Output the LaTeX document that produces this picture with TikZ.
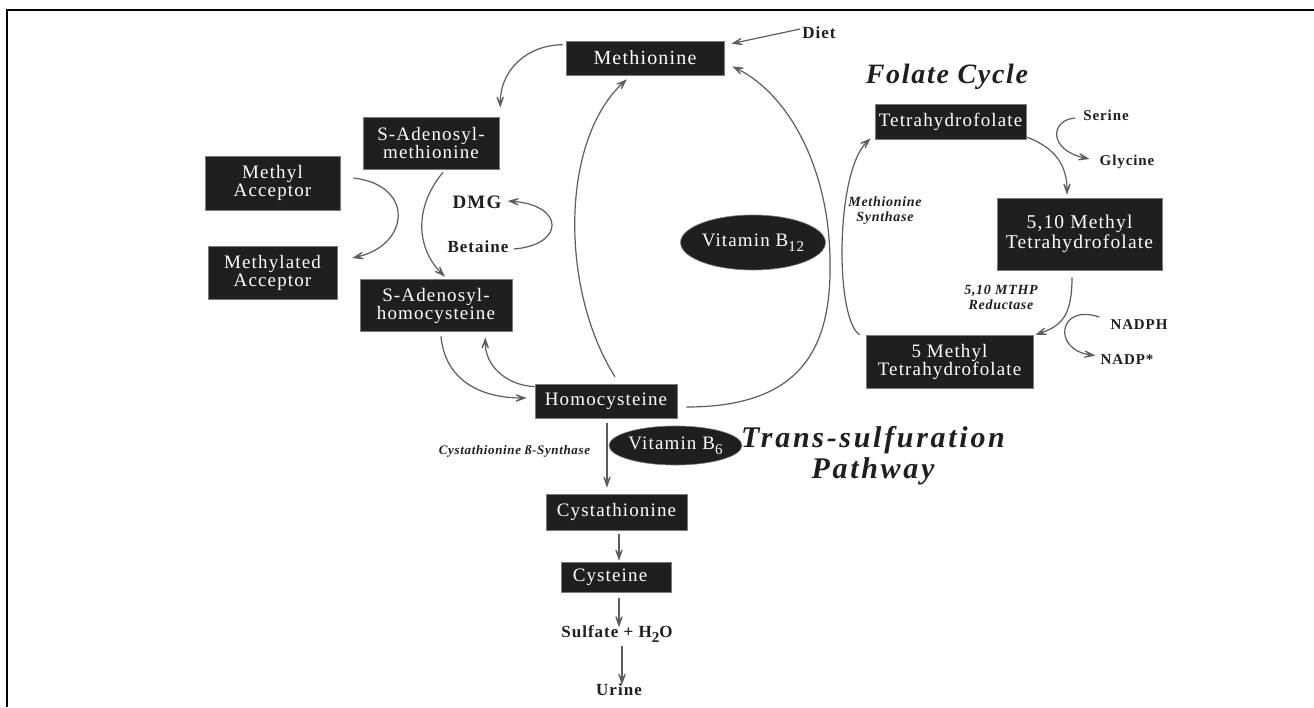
\documentclass[tikz,border=0pt]{standalone}
\usepackage{fontspec}
\setmainfont{Liberation Serif}
\newfontfamily\bxf[LetterSpace=6]{Liberation Serif}
\newfontfamily\lbf[LetterSpace=6]{Liberation Serif}
\newfontfamily\itf[LetterSpace=5]{Liberation Serif}
\newfontfamily\ttlf[LetterSpace=6]{Liberation Serif}
\newfontfamily\ttlw[LetterSpace=9]{Liberation Serif}
\usetikzlibrary{arrows.meta,calc,shapes.geometric}
\definecolor{boxfill}{HTML}{1F1F1F}
\definecolor{boxedge}{HTML}{7A7A7A}
\definecolor{arrowc}{HTML}{5C5C5C}
\definecolor{textc}{HTML}{1E1E1E}
\newcommand\lowsub[1]{\raisebox{-5pt}{\fontsize{15}{15}\selectfont #1}}
\tikzset{
  box/.style={fill=boxfill, draw=boxedge, line width=0.6pt, text=white, align=center, inner sep=0pt,
    font={\bxf\fontsize{19}{18}\selectfont}},
  vit/.style={ellipse, fill=boxfill, draw=boxedge, line width=0.6pt, text=white, inner sep=0pt,
    font={\bxf\fontsize{19}{18}\selectfont}},
  lbl/.style={text=textc, inner sep=1pt, font={\lbf\bfseries\fontsize{17}{17}\selectfont}},
  slbl/.style={text=textc, inner sep=1pt, font={\lbf\bfseries\fontsize{15}{15}\selectfont}},
  itl/.style={text=textc, inner sep=1pt, align=center, font={\itf\bfseries\itshape\fontsize{14}{15}\selectfont}},
  ttl/.style={text=textc, inner sep=1pt, align=center, font={\ttlf\bfseries\itshape\fontsize{28}{30}\selectfont}},
  tip/.tip={Stealth[open, length=17pt, width=12pt, inset=11pt, line width=1.1pt]},
  arr/.style={draw=arrowc, line width=1.2pt, -tip},
}
\begin{document}
\begin{tikzpicture}[x=1pt,y=-1pt]
\useasboundingbox (0,0) rectangle (1314,707);
\draw[line width=2pt, black] (1314,10) -- (6.5,10) -- (6.5,707);

% boxes
\node[box, minimum width=158pt, minimum height=34pt, font={\bxf\fontsize{20}{18}\selectfont}] (meth) at (645,58) {Methionine};
\node[box, minimum width=136pt, minimum height=52pt] (sam) at (431,143) {S-Adenosyl-\\methionine};
\node[box, minimum width=135pt, minimum height=54pt] (macc) at (272.5,183) {Methyl\\Acceptor};
\node[box, minimum width=129pt, minimum height=53pt] (mdacc) at (272.5,272.5) {Methylated\\Acceptor};
\node[box, minimum width=152pt, minimum height=52pt] (sah) at (436,305.5) {S-Adenosyl-\\homocysteine};
\node[box, minimum width=142pt, minimum height=34pt] (hcy) at (606,401) {Homocysteine};
\node[box, minimum width=141pt, minimum height=36pt] (cysta) at (616.5,512) {Cystathionine};
\node[box, minimum width=110pt, minimum height=30pt] (cys) at (616,577) {\hspace*{-12pt}Cysteine};
\node[box, minimum width=151pt, minimum height=35pt] (thf) at (950.5,121.5) {Tetrahydrofolate};
\node[box, minimum width=165pt, minimum height=72pt, font={\bxf\fontsize{19.5}{20}\selectfont}] (mthfa) at (1079.5,234) {5,10 Methyl\\Tetrahydrofolate};
\node[box, minimum width=167pt, minimum height=53pt] (mthfb) at (949.5,361.5) {5 Methyl\\Tetrahydrofolate};

% vitamins
\node[vit, minimum width=140pt, minimum height=55pt] (b12) at (753,242.5) {Vitamin B\lowsub{12}};
\node[vit, minimum width=119pt, minimum height=39pt] (b6) at (675.5,445.5) {Vitamin B\lowsub{6}};

% labels
\node[lbl] (diet) at (819,33) {Diet};
\node[lbl, font={\lbf\bfseries\fontsize{19}{19}\selectfont}] (dmg) at (477,202) {DMG};
\node[lbl] (bet) at (478,247) {Betaine};
\node[slbl] (ser) at (1106,115) {Serine};
\node[slbl] (gly) at (1127,162) {Glycine};
\node[slbl] (nadph) at (1139,325) {NADPH};
\node[slbl] (nadp) at (1127,359.5) {NADP*};
\node[lbl] (sulf) at (617,634) {Sulfate + H\lowsub{2}O};
\node[lbl] (urine) at (619,690) {Urine};
\node[itl] (msyn) at (885,211) {Methionine\\Synthase};
\node[itl] (mthpr) at (1001,297) {5,10 MTHP\\Reductase};
\node[itl, font={\itf\bfseries\itshape\fontsize{13}{13}\selectfont}] (cbs) at (514.5,451) {Cystathionine ß-Synthase};
\node[ttl] (folate) at (947,77) {Folate Cycle};
\node[ttl, font={\ttlw\bfseries\itshape\fontsize{30}{31}\selectfont}] (trans) at (873,456) {Trans-sulfuration\\Pathway};

% connectors
\coordinate (rb) at (830,260);
\draw[arr] ($(diet.west)+(-1,-4)$) -- ($(meth.north east)+(7,3)$);
\draw[arr] ($(meth.north west)+(-3,4)$) .. controls (525,45) and (500,72) .. ($(sam.north east)+(1,-9)$);
\draw[arr] ($(hcy.north)+(9,-7)$) .. controls (560,290) and (560,140) .. ($(meth.south)+(-18,4)$);
\draw[arr] ($(hcy.east)+(9,6)$) .. controls (800,407) and (832,350) .. (rb) .. controls (829,170) and (790,95) .. ($(meth.south east)+(8,-9)$);
\draw[arr] ($(mthfb.north west)+(-6,0)$) .. controls (835,320) and (835,172) .. ($(thf.south west)+(-4,-1)$);
\draw[arr] ($(thf.south east)+(1,-2)$) .. controls (1055,148) and (1067,165) .. ($(mthfa.north)+(-12.5,-3)$);
\draw[arr] ($(ser.west)+(-7,3)$) .. controls (1050,120) and (1048,150) .. ($(gly.west)+(-9,-3)$);
\draw[arr] ($(mthfa.south)+(-7.5,7)$) .. controls (1072,315) and (1062,326) .. ($(mthfb.north east)+(2,0)$);
\draw[arr] ($(nadph.west)+(-10,-8)$) .. controls (1058,303) and (1052,350) .. ($(nadp.west)+(-4,-4)$);
\draw[arr] ($(sam.south)+(12,3)$) .. controls (412,210) and (418,250) .. ($(sah.north)+(9,-2.5)$);
\draw[arr] ($(macc.east)+(13,-5)$) .. controls (415,185) and (410,245) .. ($(mdacc.east)+(15,-14.5)$);
\draw[arr] ($(bet.east)+(4,2)$) .. controls (565,245) and (565,205) .. ($(dmg.east)+(5,-1)$);
\draw[arr] ($(sah.south)+(5,4.5)$) .. controls (445,380) and (480,398) .. ($(hcy.west)+(-8,-3)$);
\draw[arr] ($(hcy.north west)+(0,3)$) .. controls (505,385) and (485,365) .. ($(sah.south east)+(-27,5.5)$);
\draw[arr] ($(hcy.south)+(1,5)$) -- ($(cysta.north)+(-9.5,-6)$);
\draw[arr] ($(cysta.south)+(2.5,4)$) -- ($(cys.north)+(3,-1)$);
\draw[arr] ($(cys.south)+(3,6)$) -- ($(sulf.north)+(2,3)$);
\draw[arr] ($(sulf.south)+(5,2)$) -- ($(urine.north)+(3,2)$);
\end{tikzpicture}
\end{document}
